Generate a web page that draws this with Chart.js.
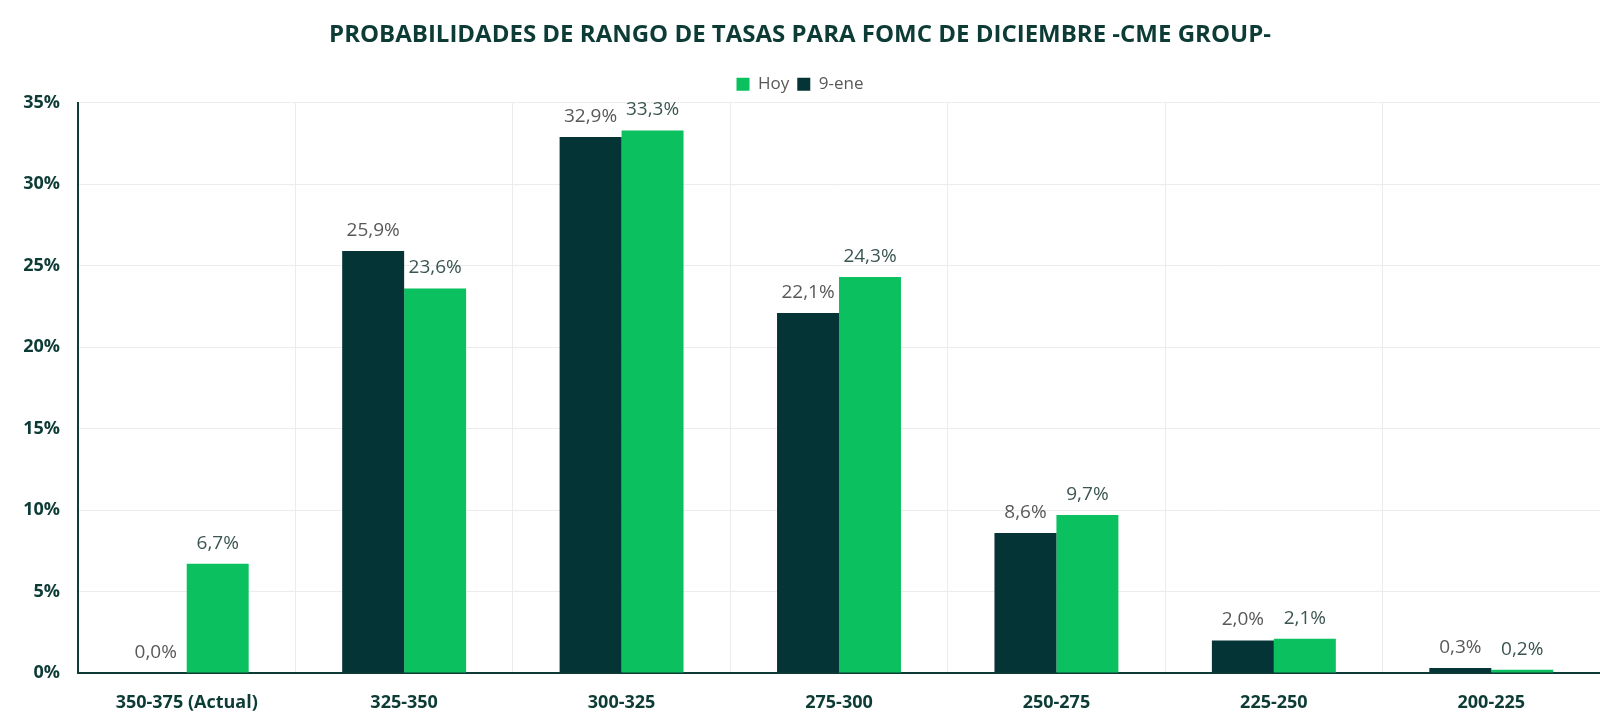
<!DOCTYPE html>
<html>
<head>
<meta charset="utf-8">
<script src="https://cdn.jsdelivr.net/npm/chart.js@4/dist/chart.umd.min.js"></script>
<style>
  body { margin: 0; background: #fff; }
  #wrap { width: 1600px; height: 726px; }
</style>
</head>
<body>
<div id="wrap"><canvas id="fomcChart" width="1600" height="726"></canvas></div>
<script>
// rangos de tasas (pb)
const categories = ["350-375 (Actual)", "325-350", "300-325", "275-300", "250-275", "225-250", "200-225"];
const ene9 = [0.0, 25.9, 32.9, 22.1, 8.6, 2.0, 0.3];
const hoy = [6.7, 23.6, 33.3, 24.3, 9.7, 2.1, 0.2];
const yTicks = [0, 5, 10, 15, 20, 25, 30, 35];

const DARK = "#043436";
const GREEN = "#0ac05f";
const AXIS = "#0d3b35";

// etiquetas encima de cada barra
const barLabels = {
  id: "barLabels",
  afterDatasetsDraw(chart) {
    const ctx = chart.ctx;
    ctx.save();
    ctx.font = "19px 'Open Sans'";
    ctx.textAlign = "center";
    ctx.textBaseline = "bottom";
    chart.data.datasets.forEach((ds, i) => {
      const meta = chart.getDatasetMeta(i);
      ctx.fillStyle = i === 0 ? "#595959" : "#3b5552";
      meta.data.forEach((bar, j) => {
        const txt = ds.data[j].toFixed(1).replace(".", ",") + "%";
        ctx.fillText(txt, bar.x, bar.y - 11);
      });
    });
    ctx.restore();
  }
};

new Chart(document.getElementById("fomcChart"), {
  type: "bar",
  data: {
    labels: categories,
    datasets: [
      { label: "9-ene", data: ene9, backgroundColor: DARK },
      { label: "Hoy", data: hoy, backgroundColor: GREEN }
    ]
  },
  options: {
    responsive: false,
    animation: false,
    layout: { padding: 0 },
    datasets: { bar: { barPercentage: 1, categoryPercentage: 0.57 } },
    plugins: {
      title: {
        display: true,
        text: "PROBABILIDADES DE RANGO DE TASAS PARA FOMC DE DICIEMBRE -CME GROUP-",
        color: AXIS,
        font: { family: "'Open Sans'", size: 24, weight: "bold" },
        padding: { top: 21, bottom: 18 }
      },
      legend: {
        reverse: true,
        labels: {
          color: "#595959",
          font: { family: "'Open Sans'", size: 17 },
          boxWidth: 13,
          boxHeight: 13,
          padding: 8
        }
      },
      tooltip: { enabled: false }
    },
    scales: {
      x: {
        afterFit(scale) { scale.height = 53; },
        grid: { color: "#ececec", drawTicks: false },
        border: { color: AXIS, width: 2 },
        ticks: { color: AXIS, padding: 19, font: { family: "'Open Sans'", size: 18, weight: "bold" } }
      },
      y: {
        min: 0,
        max: 35,
        afterBuildTicks(axis) { axis.ticks = yTicks.map(v => ({ value: v })); },
        afterFit(scale) { scale.width = 78; },
        grid: { color: "#ececec", drawTicks: false },
        border: { color: AXIS, width: 2 },
        ticks: {
          color: AXIS,
          padding: 18,
          font: { family: "'Open Sans'", size: 18, weight: "bold" },
          callback: v => v + "%"
        }
      }
    }
  },
  plugins: [barLabels]
});
</script>
</body>
</html>
